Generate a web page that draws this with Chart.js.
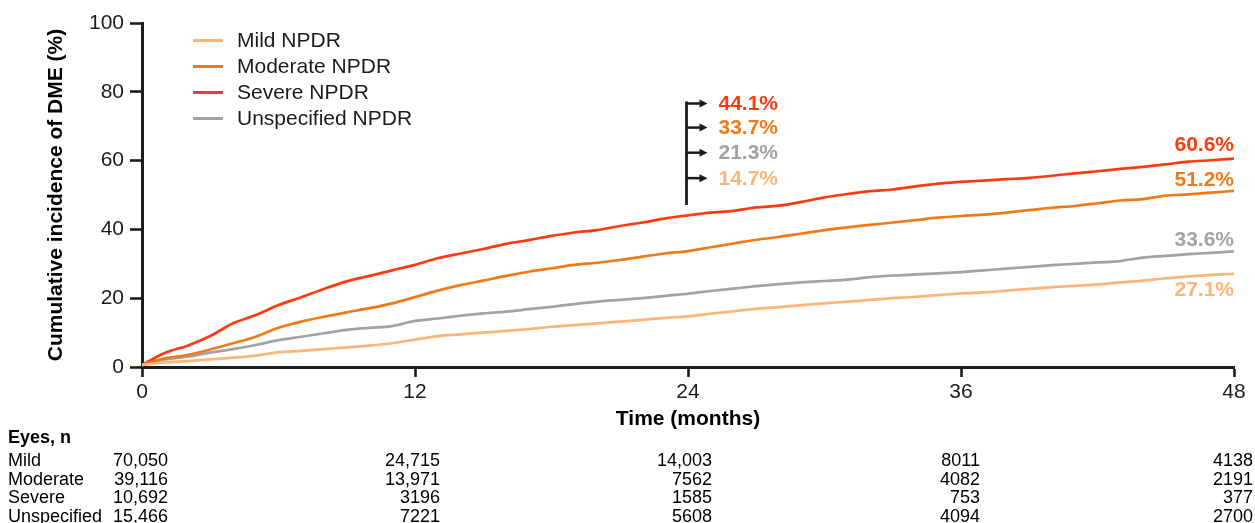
<!DOCTYPE html>
<html>
<head>
<meta charset="utf-8">
<script src="https://cdn.jsdelivr.net/npm/chart.js@4"></script>
<style>
  html, body { margin:0; padding:0; background:#fff; }
  #wrap { width:1255px; height:523px; position:relative; }
</style>
</head>
<body>
<div id="wrap"><canvas id="c" width="1255" height="523"></canvas></div>
<script>
// ---------- DATA ----------
const months = [0,1,2,3,4,5,6,7,8,9,10,11,12,13,14,15,16,17,18,19,20,21,22,23,24,25,26,27,28,29,30,31,32,33,34,35,36,37,38,39,40,41,42,43,44,45,46,47,48];
const seriesNames = ['Mild NPDR','Moderate NPDR','Severe NPDR','Unspecified NPDR'];
const mild = [0.6,1.3,1.7,2.2,2.7,3.3,4.3,4.7,5.2,5.7,6.2,6.9,8.0,9.0,9.5,10.0,10.5,11.0,11.7,12.2,12.7,13.2,13.7,14.3,14.7,15.5,16.2,16.9,17.4,18.0,18.5,19.0,19.5,20.0,20.4,20.9,21.4,21.7,22.2,22.7,23.2,23.6,24.0,24.6,25.1,25.8,26.3,26.8,27.1];
const moderate = [0.6,2.5,3.5,5.1,6.9,8.8,11.4,13.2,14.6,15.9,17.1,18.5,20.3,22.2,23.8,25.1,26.5,27.7,28.7,29.7,30.3,31.1,32.1,33.0,33.7,34.8,35.9,37.0,37.8,38.8,39.8,40.6,41.3,42.0,42.7,43.4,43.9,44.3,44.9,45.6,46.3,46.8,47.6,48.4,48.8,49.8,50.2,50.7,51.2];
const severe = [0.6,4.1,6.2,9.0,12.7,15.1,18.0,20.3,22.7,24.9,26.5,28.1,29.7,31.6,33.0,34.3,35.8,36.9,38.1,39.1,39.8,41.0,42.0,43.2,44.1,44.9,45.4,46.4,46.9,48.0,49.3,50.3,51.1,51.6,52.5,53.3,53.8,54.2,54.6,55.0,55.6,56.3,56.9,57.6,58.2,58.9,59.7,60.1,60.6];
const unspecified = [0.6,2.2,3.0,4.2,5.2,6.4,7.8,8.8,9.8,10.8,11.4,11.9,13.4,14.1,14.9,15.6,16.1,16.8,17.5,18.3,19.0,19.5,20.0,20.7,21.3,22.1,22.8,23.5,24.1,24.6,25.0,25.4,26.1,26.6,26.9,27.2,27.6,28.1,28.6,29.1,29.6,30.0,30.4,30.8,31.8,32.3,32.8,33.2,33.6];
const xTicks = [0,12,24,36,48];
const yTicks = [0,20,40,60,80,100];
// annotated values
const at24Labels = ['44.1%','33.7%','21.3%','14.7%'];      // severe, moderate, unspecified, mild
const at48Labels = ['60.6%','51.2%','33.6%','27.1%'];
// risk table
const riskTitle = 'Eyes, n';
const riskRows = ['Mild','Moderate','Severe','Unspecified'];
const riskMild = [70050,24715,14003,8011,4138];
const riskModerate = [39116,13971,7562,4082,2191];
const riskSevere = [10692,3196,1585,753,377];
const riskUnspecified = [15466,7221,5608,4094,2700];

// ---------- STYLE ----------
const FONT = "'Liberation Sans', Arial, Helvetica, sans-serif";
const INK = '#1c1c1c';
const FS = 21;
const colors = { mild:'#FBB579', moderate:'#F07A17', severe:'#FF3A0E', unspecified:'#A3A3A3' };

function pts(arr){ return months.map((m,i)=>({x:m, y:arr[i]})); }
function fmt(n){ return n >= 10000 ? n.toLocaleString('en-US') : String(n); }

const seriesData = [mild, moderate, severe, unspecified];
const seriesColors = [colors.mild, colors.moderate, colors.severe, colors.unspecified];

const datasets = seriesNames.map((name,i)=>({
  label: name,
  data: pts(seriesData[i]),
  borderColor: seriesColors[i],
  backgroundColor: seriesColors[i],
  borderWidth: 2.7,
  pointRadius: 0,
  cubicInterpolationMode: 'monotone',
  fill: false,
  clip: false
}));

const overlay = {
  id: 'overlay',
  afterDatasetsDraw(chart) {
    const ctx = chart.ctx;
    const xs = chart.scales.x, ys = chart.scales.y;
    ctx.save();
    // legend
    const legX0 = 193, legX1 = 223, legTextX = 237;
    const legY = [40.5, 66.5, 92.5, 118.5];
    ctx.font = `${FS}px ${FONT}`;
    ctx.textBaseline = 'middle';
    ctx.textAlign = 'left';
    seriesNames.forEach((n,i)=>{
      ctx.strokeStyle = seriesColors[i];
      ctx.lineWidth = 3;
      ctx.beginPath(); ctx.moveTo(legX0, legY[i]); ctx.lineTo(legX1, legY[i]); ctx.stroke();
      ctx.fillStyle = INK;
      ctx.fillText(n, legTextX, legY[i] + 1);
    });

    // annotation at 24 months
    const vx = xs.getPixelForValue(24) - 1.5;
    const arrowYVals = [76.6, 69.6, 62.3, 54.9];
    const labelColors = [colors.severe, colors.moderate, colors.unspecified, colors.mild];
    ctx.strokeStyle = '#1a1a1a';
    ctx.fillStyle = '#1a1a1a';
    ctx.lineWidth = 2.8;
    ctx.beginPath();
    ctx.moveTo(vx, ys.getPixelForValue(77.2));
    ctx.lineTo(vx, ys.getPixelForValue(47.1));
    ctx.stroke();
    ctx.font = `bold ${FS}px ${FONT}`;
    arrowYVals.forEach((v,i)=>{
      const py = ys.getPixelForValue(v);
      ctx.strokeStyle = '#1a1a1a';
      ctx.lineWidth = 2.5;
      ctx.beginPath(); ctx.moveTo(vx, py); ctx.lineTo(vx + 14, py); ctx.stroke();
      ctx.fillStyle = '#1a1a1a';
      ctx.beginPath();
      ctx.moveTo(vx + 21, py); ctx.lineTo(vx + 13, py - 4); ctx.lineTo(vx + 13, py + 4); ctx.closePath(); ctx.fill();
      ctx.fillStyle = labelColors[i];
      ctx.textAlign = 'left';
      ctx.fillText(at24Labels[i], vx + 32, py + 1);
    });

    // end labels at 48
    const ex = xs.getPixelForValue(48);
    const endVals = [severe[48], moderate[48], unspecified[48], mild[48]];
    const endOffsets = [-13.5, -11, -11.5, 16];
    ctx.textAlign = 'right';
    endVals.forEach((v,i)=>{
      ctx.fillStyle = labelColors[i];
      ctx.fillText(at48Labels[i], ex, ys.getPixelForValue(v) + endOffsets[i]);
    });
    ctx.restore();
  },
  afterDraw(chart) {
    const ctx = chart.ctx;
    const xs = chart.scales.x;
    ctx.save();
    ctx.textBaseline = 'middle';
    ctx.fillStyle = '#000';
    ctx.font = `bold 18px ${FONT}`;
    ctx.textAlign = 'left';
    ctx.fillText(riskTitle, 8, 438);
    const rows = [riskMild, riskModerate, riskSevere, riskUnspecified];
    const rowY = [461.5, 480, 498.5, 517];
    const colOffset = [26, 25, 24, 19, 19];
    ctx.font = `18px ${FONT}`;
    rows.forEach((r,ri)=>{
      ctx.textAlign = 'left';
      ctx.fillText(riskRows[ri], 8, rowY[ri]);
      ctx.textAlign = 'right';
      r.forEach((n,ci)=>{
        ctx.fillText(fmt(n), xs.getPixelForValue(xTicks[ci]) + colOffset[ci], rowY[ri]);
      });
    });
    ctx.restore();
  }
};

Chart.defaults.font.family = FONT;
Chart.defaults.color = INK;

new Chart(document.getElementById('c'), {
  type: 'line',
  data: { datasets },
  options: {
    responsive: false,
    animation: false,
    devicePixelRatio: 1,
    layout: { padding: { top: 23, right: 21, left: 0, bottom: 0 } },
    plugins: { legend: { display: false }, tooltip: { enabled: false } },
    scales: {
      x: {
        type: 'linear', min: 0, max: 48,
        afterBuildTicks: (s) => { s.ticks = xTicks.map(v=>({value:v})); },
        afterFit: (s) => { s.height = 156; },
        border: { display: true, color: '#1c1c1c', width: 3 },
        grid: { display: true, drawOnChartArea: false, drawTicks: true, tickLength: 10, tickWidth: 2.6, tickColor: '#1c1c1c' },
        ticks: { font: { size: FS }, color: INK, padding: 3, maxRotation: 0 },
        title: { display: true, text: 'Time (months)', font: { size: FS, weight: 'bold' }, color: '#000', padding: { top: 0, bottom: 91 } }
      },
      y: {
        type: 'linear', min: 0, max: 100,
        afterBuildTicks: (s) => { s.ticks = yTicks.map(v=>({value:v})); },
        afterFit: (s) => { s.width = 142; },
        border: { display: true, color: '#1c1c1c', width: 3 },
        grid: { display: true, drawOnChartArea: false, drawTicks: true, tickLength: 12, tickWidth: 2.6, tickColor: '#1c1c1c' },
        ticks: { font: { size: FS }, color: INK, padding: 6 },
        title: { display: true, text: 'Cumulative incidence of DME (%)', font: { size: FS, weight: 'bold' }, color: '#000', padding: { top: 44, bottom: 0 } }
      }
    }
  },
  plugins: [overlay]
});
</script>
</body>
</html>
